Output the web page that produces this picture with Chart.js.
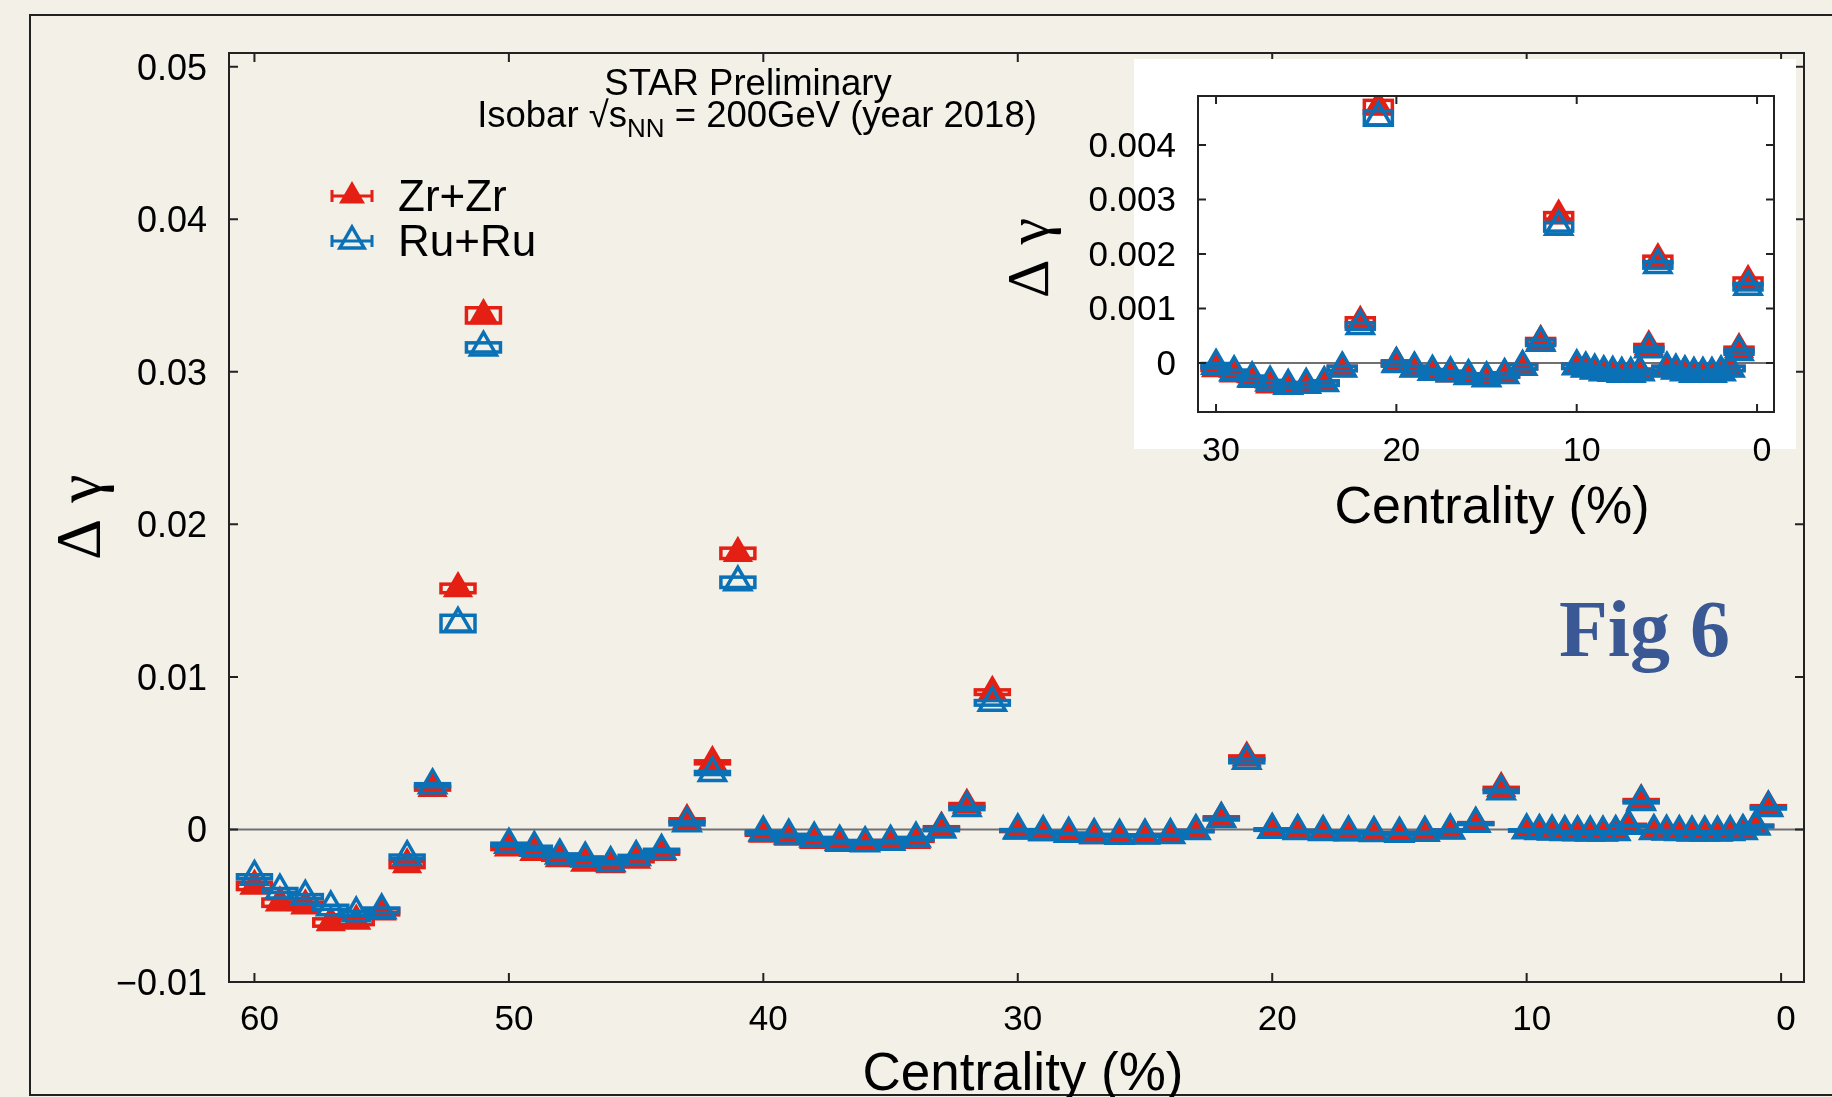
<!DOCTYPE html>
<html>
<head>
<meta charset="utf-8">
<script src="https://cdn.jsdelivr.net/npm/chart.js@4.4.0/dist/chart.umd.min.js"></script>
<style>
  html, body { margin: 0; padding: 0; background: #f3f0e8; }
  #wrap { position: relative; width: 1832px; height: 1097px; overflow: hidden; }
  #mainChart { position: absolute; left: 0; top: 0; }
  #insetChart { position: absolute; left: 990px; top: 40px; }
</style>
</head>
<body>
<div id="wrap">
  <canvas id="mainChart" width="1832" height="1097"></canvas>
  <canvas id="insetChart" width="830" height="500"></canvas>
</div>
<script>
// Centrality bins (%): 1% wide down to 10%, then 0.5% wide
const centrality = [
  60, 59, 58, 57, 56, 55, 54, 53, 52, 51,
  50, 49, 48, 47, 46, 45, 44, 43, 42, 41,
  40, 39, 38, 37, 36, 35, 34, 33, 32, 31,
  30, 29, 28, 27, 26, 25, 24, 23, 22, 21,
  20, 19, 18, 17, 16, 15, 14, 13, 12, 11,
  10, 9.5, 9, 8.5, 8, 7.5, 7, 6.5, 6, 5.5,
  5, 4.5, 4, 3.5, 3, 2.5, 2, 1.5, 1, 0.5
];

// Delta gamma, Zr+Zr
const zrValues = [
  -0.0037, -0.0048, -0.0050, -0.0061, -0.0060, -0.0054, -0.0023, 0.0027, 0.0158, 0.0337,
  -0.0012, -0.0015, -0.0019, -0.0022, -0.0023, -0.0020, -0.0015, 0.0006, 0.0044, 0.0181,
  -0.0003, -0.0005, -0.0007, -0.0009, -0.0009, -0.0008, -0.0007, 0.0001, 0.0016, 0.0090,
  -0.0001, -0.0002, -0.0003, -0.0004, -0.00042, -0.0004, -0.00037, -0.0001, 0.00075, 0.0047,
  0.0000, -0.0001, -0.00017, -0.0002, -0.00024, -0.00028, -0.00022, -0.00007, 0.0004, 0.0027,
  -0.00006, -0.0001, -0.00014, -0.00017, -0.00019, -0.0002, -0.0002, -0.00015, 0.0003, 0.0019,
  -0.0001, -0.00014, -0.00017, -0.0002, -0.0002, -0.0002, -0.00017, -0.0001, 0.00025, 0.0015
];

// Delta gamma, Ru+Ru
const ruValues = [
  -0.0031, -0.0040, -0.0044, -0.0051, -0.0055, -0.0053, -0.0018, 0.0029, 0.0135, 0.0316,
  -0.0010, -0.0012, -0.0017, -0.0019, -0.0022, -0.0018, -0.0014, 0.0004, 0.0037, 0.0162,
  -0.0002, -0.0004, -0.0006, -0.0008, -0.0009, -0.0008, -0.0006, 0.0000, 0.0014, 0.0083,
  -0.00005, -0.00017, -0.00028, -0.00036, -0.00042, -0.0004, -0.00037, -0.0001, 0.00068, 0.0045,
  -0.00002, -0.0001, -0.00016, -0.00019, -0.00024, -0.00028, -0.00022, -0.00007, 0.00037, 0.0025,
  -0.00006, -0.0001, -0.00014, -0.00017, -0.00018, -0.0002, -0.0002, -0.00017, 0.00025, 0.0018,
  -0.0001, -0.00014, -0.00017, -0.0002, -0.0002, -0.0002, -0.00017, -0.0001, 0.0002, 0.0014
];

// Systematic half-heights (boxes)
const zrSys = [
  0.00024, 0.00024, 0.00024, 0.00024, 0.00024, 0.0002, 0.0002, 0.00012, 0.00028, 0.0005,
  0.00012, 0.00012, 0.00012, 0.00012, 0.00012, 0.00012, 0.00012, 0.0001, 0.0001, 0.00034,
  0.00008, 0.00008, 0.00008, 0.00008, 0.00008, 0.00008, 0.00008, 0.00008, 0.0001, 0.00015,
  0.00004, 0.00004, 0.00004, 0.00004, 0.00004, 0.00004, 0.00004, 0.00004, 0.00008, 0.00012,
  0.00004, 0.00004, 0.00004, 0.00004, 0.00004, 0.00004, 0.00004, 0.00004, 0.00005, 0.00006,
  0.00004, 0.00004, 0.00004, 0.00004, 0.00004, 0.00004, 0.00004, 0.00004, 0.00004, 0.00006,
  0.00004, 0.00004, 0.00004, 0.00004, 0.00004, 0.00004, 0.00004, 0.00004, 0.00004, 0.00006
];
const ruSys = [
  0.00013, 0.00013, 0.00013, 0.00013, 0.00013, 0.00015, 0.00012, 0.0001, 0.00054, 0.0003,
  0.0001, 0.0001, 0.0001, 0.0001, 0.0001, 0.0001, 0.0001, 0.0001, 0.0001, 0.00034,
  0.00008, 0.00008, 0.00008, 0.00008, 0.00008, 0.00008, 0.00008, 0.00008, 0.0001, 0.00015,
  0.00004, 0.00004, 0.00004, 0.00004, 0.00004, 0.00004, 0.00004, 0.00004, 0.00006, 0.00013,
  0.00004, 0.00004, 0.00004, 0.00004, 0.00004, 0.00004, 0.00004, 0.00004, 0.00005, 0.00008,
  0.00004, 0.00004, 0.00004, 0.00004, 0.00004, 0.00004, 0.00004, 0.00004, 0.00004, 0.00006,
  0.00004, 0.00004, 0.00004, 0.00004, 0.00004, 0.00004, 0.00004, 0.00004, 0.00004, 0.00006
];

const mainXTicks = [0, 10, 20, 30, 40, 50, 60];
const mainYTicks = [-0.01, 0, 0.01, 0.02, 0.03, 0.04, 0.05];
const insetXTicks = [0, 10, 20, 30];
const insetYTicks = [0, 0.001, 0.002, 0.003, 0.004];

const seriesNames = ['Zr+Zr', 'Ru+Ru'];

const RED = '#e41f14';
const BLUE = '#0b71b6';
const BG = '#f3f0e8';
const SANS = '"Liberation Sans", Arial, sans-serif';
const SERIF = '"Liberation Serif", "Times New Roman", serif';

Chart.defaults.font.family = SANS;

function fmtTick(v, digits) {
  if (Math.abs(v) < 1e-12) return '0';
  return (v < 0 ? '\u2212' : '') + Math.abs(v).toFixed(digits);
}

function makeDatasets() {
  return [
    {
      label: seriesNames[1],
      data: centrality.map((c, i) => ({ x: c, y: ruValues[i] })),
      sys: ruSys,
      order: 1,
      pointStyle: 'triangle',
      pointRadius: 15,
      backgroundColor: 'rgba(0,0,0,0)',
      borderColor: BLUE,
      pointBorderWidth: 3.5,
      showLine: false
    },
    {
      label: seriesNames[0],
      data: centrality.map((c, i) => ({ x: c, y: zrValues[i] })),
      sys: zrSys,
      order: 2,
      pointStyle: 'triangle',
      pointRadius: 16,
      backgroundColor: RED,
      borderColor: RED,
      pointBorderWidth: 1.5,
      showLine: false
    }
  ];
}

// triangle same shape as chart.js 'triangle' point style
function trianglePath(ctx, x, y, r) {
  ctx.beginPath();
  ctx.moveTo(x, y - r);
  ctx.lineTo(x + 0.866 * r, y + 0.5 * r);
  ctx.lineTo(x - 0.866 * r, y + 0.5 * r);
  ctx.closePath();
}

// systematic boxes, drawn just before each dataset's markers
function sysBoxPlugin(boxW) {
  return {
    id: 'sysBoxes',
    beforeDatasetDraw(chart, args) {
      const ds = chart.data.datasets[args.index];
      const { ctx, chartArea: a, scales: { x, y } } = chart;
      ctx.save();
      ctx.beginPath();
      ctx.rect(a.left, a.top, a.right - a.left, a.bottom - a.top);
      ctx.clip();
      ctx.strokeStyle = ds.borderColor;
      ctx.lineWidth = 3.5;
      ds.data.forEach((p, i) => {
        const px = x.getPixelForValue(p.x);
        const top = y.getPixelForValue(p.y + ds.sys[i]);
        const bot = y.getPixelForValue(p.y - ds.sys[i]);
        ctx.strokeRect(px - boxW / 2, top, boxW, bot - top);
      });
      ctx.restore();
    }
  };
}

function drawZeroLine(chart) {
  const { ctx, chartArea: a, scales: { y } } = chart;
  const py = y.getPixelForValue(0);
  ctx.save();
  ctx.strokeStyle = '#707070';
  ctx.lineWidth = 2;
  ctx.beginPath();
  ctx.moveTo(a.left, py);
  ctx.lineTo(a.right, py);
  ctx.stroke();
  ctx.restore();
}

function drawFrameTicks(chart, len) {
  const { ctx, chartArea: a, scales: { x, y } } = chart;
  ctx.save();
  ctx.strokeStyle = '#222';
  ctx.lineWidth = 2;
  ctx.strokeRect(a.left, a.top, a.right - a.left, a.bottom - a.top);
  ctx.beginPath();
  x.ticks.forEach(t => {
    const px = x.getPixelForValue(t.value);
    ctx.moveTo(px, a.bottom); ctx.lineTo(px, a.bottom - len);
    ctx.moveTo(px, a.top); ctx.lineTo(px, a.top + len);
  });
  y.ticks.forEach(t => {
    const py = y.getPixelForValue(t.value);
    ctx.moveTo(a.left, py); ctx.lineTo(a.left + len, py);
    ctx.moveTo(a.right, py); ctx.lineTo(a.right - len, py);
  });
  ctx.stroke();
  ctx.restore();
}

function drawRotatedTitle(ctx, text, x, y, font) {
  ctx.save();
  ctx.translate(x, y);
  ctx.rotate(-Math.PI / 2);
  ctx.font = font;
  ctx.fillStyle = '#000';
  ctx.textAlign = 'left';
  ctx.textBaseline = 'alphabetic';
  ctx.fillText(text, 0, 0);
  ctx.restore();
}

function drawLegendEntry(ctx, x, y, color, filled, label) {
  ctx.save();
  ctx.strokeStyle = color;
  ctx.lineWidth = 3;
  ctx.beginPath();
  ctx.moveTo(x - 20, y); ctx.lineTo(x + 20, y);
  ctx.moveTo(x - 20, y - 6); ctx.lineTo(x - 20, y + 6);
  ctx.moveTo(x + 20, y - 6); ctx.lineTo(x + 20, y + 6);
  ctx.stroke();
  if (filled) {
    trianglePath(ctx, x, y, 15);
    ctx.fillStyle = color;
    ctx.fill();
  } else {
    trianglePath(ctx, x, y, 14);
    ctx.lineWidth = 3.5;
    ctx.stroke();
  }
  ctx.fillStyle = '#000';
  ctx.font = '44px ' + SANS;
  ctx.textBaseline = 'alphabetic';
  ctx.fillText(label, x + 46, y + 15);
  ctx.restore();
}

const mainDecor = {
  id: 'mainDecor',
  beforeDraw(chart) {
    const ctx = chart.ctx;
    ctx.save();
    ctx.fillStyle = BG;
    ctx.fillRect(0, 0, chart.width, chart.height);
    // outer frame of the slide
    ctx.strokeStyle = '#222';
    ctx.lineWidth = 2;
    ctx.strokeRect(30, 15, 1900, 1080);
    ctx.restore();
  },
  beforeDatasetsDraw(chart) {
    drawZeroLine(chart);
  },
  afterDraw(chart) {
    const ctx = chart.ctx;
    drawFrameTicks(chart, 9);

    ctx.save();
    ctx.fillStyle = '#000';
    // header
    ctx.font = '36.5px ' + SANS;
    ctx.textAlign = 'center';
    ctx.fillText('STAR Preliminary', 748, 95);
    const p1 = 'Isobar \u221As', p2 = 'NN', p3 = ' = 200GeV (year 2018)';
    ctx.textAlign = 'left';
    const w1 = ctx.measureText(p1).width, w3 = ctx.measureText(p3).width;
    ctx.font = '26px ' + SANS;
    const w2 = ctx.measureText(p2).width;
    const x0 = 757 - (w1 + w2 + w3) / 2;
    ctx.font = '36.5px ' + SANS;
    ctx.fillText(p1, x0, 127);
    ctx.font = '26px ' + SANS;
    ctx.fillText(p2, x0 + w1, 137);
    ctx.font = '36.5px ' + SANS;
    ctx.fillText(p3, x0 + w1 + w2, 127);

    // axis titles
    ctx.font = '53px ' + SANS;
    ctx.textAlign = 'center';
    ctx.fillText('Centrality (%)', 1023, 1090);
    drawRotatedTitle(ctx, '\u0394 \u03B3', 100, 560, '64px ' + SERIF);

    // Fig label
    ctx.font = 'bold 80px ' + SERIF;
    ctx.fillStyle = '#3a5893';
    ctx.textAlign = 'left';
    ctx.fillText('Fig 6', 1559, 656);
    ctx.restore();

    drawLegendEntry(ctx, 352, 196, RED, true, seriesNames[0]);
    drawLegendEntry(ctx, 352, 241, BLUE, false, seriesNames[1]);
  }
};

const insetDecor = {
  id: 'insetDecor',
  beforeDraw(chart) {
    const ctx = chart.ctx;
    ctx.save();
    ctx.fillStyle = '#ffffff';
    ctx.fillRect(144, 19, 662, 390);
    ctx.restore();
  },
  beforeDatasetsDraw(chart) {
    drawZeroLine(chart);
  },
  afterDraw(chart) {
    const ctx = chart.ctx;
    drawFrameTicks(chart, 8);
    ctx.save();
    ctx.fillStyle = '#000';
    ctx.font = '52px ' + SANS;
    ctx.textAlign = 'center';
    ctx.fillText('Centrality (%)', 502, 483);
    ctx.restore();
    drawRotatedTitle(ctx, '\u0394 \u03B3', 58, 258, '60px ' + SERIF);
  }
};

function axisOpts(opts) {
  return {
    type: 'linear',
    reverse: !!opts.reverse,
    min: opts.min,
    max: opts.max,
    afterBuildTicks: s => { s.ticks = opts.ticks.map(v => ({ value: v })); },
    afterFit: opts.fit,
    grid: { display: false, drawTicks: false },
    border: { display: false },
    ticks: {
      autoSkip: false,
      maxRotation: 0,
      color: '#000',
      padding: opts.padding,
      labelOffset: opts.offset,
      font: { size: opts.fontSize, family: SANS },
      callback: opts.format
    }
  };
}

new Chart(document.getElementById('mainChart'), {
  type: 'scatter',
  data: { datasets: makeDatasets() },
  options: {
    responsive: false,
    animation: false,
    events: [],
    layout: { padding: { left: 0, top: 53, right: 28, bottom: 0 } },
    plugins: { legend: { display: false }, tooltip: { enabled: false } },
    scales: {
      x: axisOpts({ reverse: true, min: -0.9, max: 61, ticks: mainXTicks, padding: 17, offset: 5, fontSize: 35,
        fit: s => { s.height = 115; }, format: v => String(v) }),
      y: axisOpts({ min: -0.01, max: 0.0509, ticks: mainYTicks, padding: 22, offset: 3, fontSize: 36,
        fit: s => { s.width = 229; }, format: v => fmtTick(v, 2) })
    }
  },
  plugins: [mainDecor, sysBoxPlugin(34)]
});

new Chart(document.getElementById('insetChart'), {
  type: 'scatter',
  data: { datasets: makeDatasets() },
  options: {
    responsive: false,
    animation: false,
    events: [],
    layout: { padding: { left: 0, top: 56, right: 46, bottom: 0 } },
    plugins: { legend: { display: false }, tooltip: { enabled: false } },
    scales: {
      x: axisOpts({ reverse: true, min: -0.94, max: 31, ticks: insetXTicks, padding: 19, offset: 5, fontSize: 34,
        fit: s => { s.height = 128; }, format: v => String(v) }),
      y: axisOpts({ min: -0.0009, max: 0.0049, ticks: insetYTicks, padding: 22, offset: 2, fontSize: 35,
        fit: s => { s.width = 208; }, format: v => fmtTick(v, 3) })
    }
  },
  plugins: [insetDecor, sysBoxPlugin(28)]
});
</script>
</body>
</html>
